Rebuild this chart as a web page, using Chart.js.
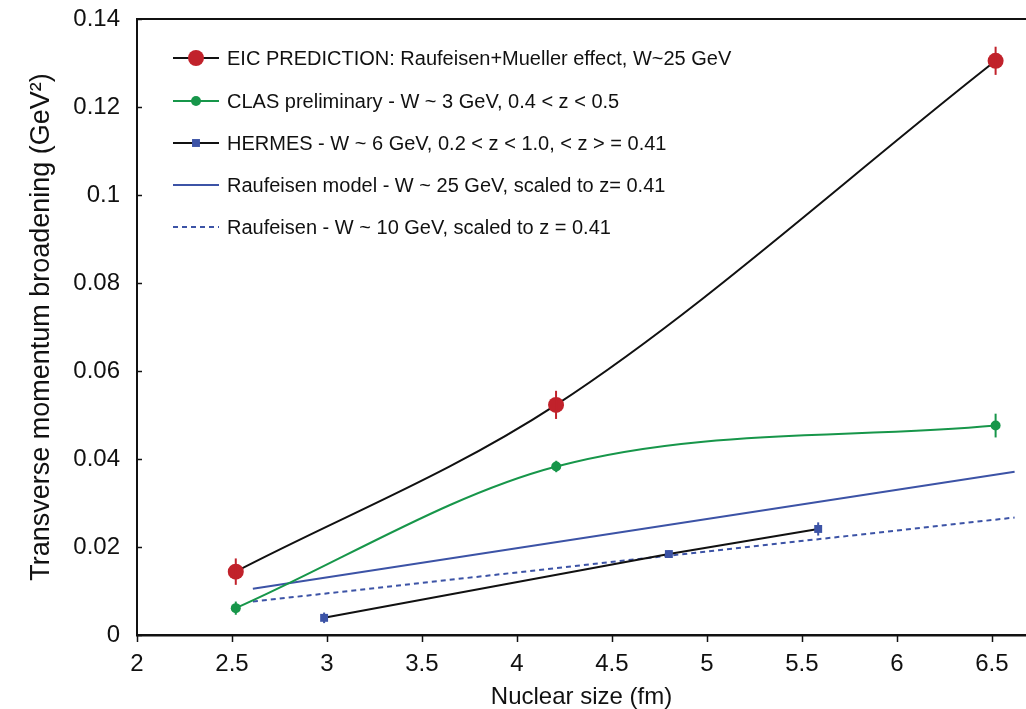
<!DOCTYPE html>
<html>
<head>
<meta charset="utf-8">
<script src="https://cdn.jsdelivr.net/npm/chart.js@4/dist/chart.umd.min.js"></script>
<style>
  html, body { margin: 0; background: #fff; }
  #grafico { display: block; }
</style>
</head>
<body>
<canvas id="grafico" width="1026" height="709"></canvas>
<script>
// Broadening vs nuclear size: EIC prediction, CLAS, HERMES and Raufeisen model curves

const xTicks = [2, 2.5, 3, 3.5, 4, 4.5, 5, 5.5, 6, 6.5];
const yTicks = [0, 0.02, 0.04, 0.06, 0.08, 0.1, 0.12, 0.14];

const eicX = [2.52, 4.206, 6.52];
const eicY = [0.0144, 0.0523, 0.1305];
const eicErr = [0.003, 0.0032, 0.0032];

const clasX = [2.52, 4.207, 6.52];
const clasY = [0.0061, 0.0383, 0.0476];
const clasErr = [0.0015, 0.0013, 0.0027];

const hermesX = [2.985, 4.8, 5.586];
const hermesY = [0.0039, 0.0184, 0.0241];
const hermesErr = [0.0012, 0.0008, 0.0015];

const modelX = [2.61, 6.62];
const model25Y = [0.0105, 0.0371];
const model10Y = [0.0076, 0.0267];

const labels = [
    'EIC PREDICTION: Raufeisen+Mueller effect, W~25 GeV',
    'CLAS preliminary - W ~ 3 GeV, 0.4 < z < 0.5',
    'HERMES - W ~ 6 GeV, 0.2 < z < 1.0, < z > = 0.41',
    'Raufeisen model - W ~ 25 GeV, scaled to z= 0.41',
    'Raufeisen - W ~ 10 GeV, scaled to z = 0.41'
];

const FAMILIA = "'Liberation Sans', Arial, Helvetica, sans-serif";
const VERMELHO = '#c1222b';
const VERDE = '#17964a';
const AZUL = '#3c53a6';

const pontos = (xs, ys) => xs.map((x, i) => ({ x, y: ys[i] }));

// error bars, drawn from each dataset's errorBars array
const pluginErros = {
    id: 'erros',
    afterDatasetsDraw(chart) {
        const { ctx, scales: { x, y } } = chart;
        chart.data.datasets.forEach((ds) => {
            if (!ds.errorBars) return;
            ctx.save();
            ctx.strokeStyle = ds.pointBackgroundColor;
            ctx.lineWidth = 2;
            ds.data.forEach((p, j) => {
                const px = x.getPixelForValue(p.x);
                ctx.beginPath();
                ctx.moveTo(px, y.getPixelForValue(p.y - ds.errorBars[j]));
                ctx.lineTo(px, y.getPixelForValue(p.y + ds.errorBars[j]));
                ctx.stroke();
            });
            ctx.restore();
        });
    }
};

// frame, tick marks and the legend inside the plot
const pluginMoldura = {
    id: 'moldura',
    afterDraw(chart) {
        const { ctx, chartArea: a, scales: { x, y } } = chart;
        ctx.save();
        ctx.strokeStyle = '#111';
        ctx.lineWidth = 2;
        ctx.beginPath();
        ctx.moveTo(a.left, a.top);
        ctx.lineTo(a.right, a.top);
        ctx.stroke();
        ctx.lineWidth = 1.5;
        yTicks.forEach(v => {
            const py = Math.round(y.getPixelForValue(v)) + 0.5;
            ctx.beginPath();
            ctx.moveTo(a.left, py);
            ctx.lineTo(a.left + 5, py);
            ctx.stroke();
        });
        xTicks.forEach(v => {
            const px = Math.round(x.getPixelForValue(v)) + 0.5;
            ctx.beginPath();
            ctx.moveTo(px, a.bottom);
            ctx.lineTo(px, a.bottom + 7);
            ctx.stroke();
        });

        const linhas = [58, 101, 143, 185, 227];
        ctx.font = `20px ${FAMILIA}`;
        ctx.textBaseline = 'middle';
        chart.data.datasets.forEach((ds, i) => {
            const ly = linhas[i];
            ctx.save();
            ctx.strokeStyle = ds.borderColor;
            ctx.lineWidth = ds.borderWidth;
            ctx.setLineDash(ds.borderDash || []);
            ctx.beginPath();
            ctx.moveTo(173, ly);
            ctx.lineTo(219, ly);
            ctx.stroke();
            ctx.restore();
            if (ds.pointRadius > 0) {
                ctx.fillStyle = ds.pointBackgroundColor;
                Chart.helpers.drawPoint(ctx, { pointStyle: ds.pointStyle, radius: ds.pointRadius, rotation: 0, borderWidth: 0 }, 196, ly);
            }
            ctx.fillStyle = '#111';
            ctx.fillText(ds.label, 227, ly + 1);
        });
        ctx.restore();
    }
};

new Chart(document.getElementById('grafico'), {
    type: 'line',
    data: {
        datasets: [
            {
                label: labels[0], data: pontos(eicX, eicY), errorBars: eicErr,
                borderColor: '#111', borderWidth: 2, cubicInterpolationMode: 'monotone',
                pointStyle: 'circle', pointRadius: 8, pointBackgroundColor: VERMELHO, pointBorderWidth: 0
            },
            {
                label: labels[1], data: pontos(clasX, clasY), errorBars: clasErr,
                borderColor: VERDE, borderWidth: 2, cubicInterpolationMode: 'monotone',
                pointStyle: 'circle', pointRadius: 5, pointBackgroundColor: VERDE, pointBorderWidth: 0
            },
            {
                label: labels[2], data: pontos(hermesX, hermesY), errorBars: hermesErr,
                borderColor: '#111', borderWidth: 2, tension: 0,
                pointStyle: 'rect', pointRadius: 5.6, pointBackgroundColor: AZUL, pointBorderWidth: 0
            },
            {
                label: labels[3], data: pontos(modelX, model25Y),
                borderColor: AZUL, borderWidth: 2, tension: 0, pointRadius: 0
            },
            {
                label: labels[4], data: pontos(modelX, model10Y),
                borderColor: AZUL, borderWidth: 2, borderDash: [5, 4], tension: 0, pointRadius: 0
            }
        ]
    },
    options: {
        responsive: false,
        animation: false,
        devicePixelRatio: 1,
        layout: { autoPadding: false, padding: { top: 19, right: 0, left: 0, bottom: 0 } },
        plugins: { legend: { display: false }, tooltip: { enabled: false } },
        scales: {
            x: {
                type: 'linear', min: 2, max: 6.68,
                afterBuildTicks: s => { s.ticks = xTicks.map(v => ({ value: v })); },
                afterFit: s => { s.height = 74; s.paddingLeft = 0; s.paddingRight = 0; },
                grid: { display: false, drawTicks: false },
                border: { display: true, color: '#111', width: 2.5 },
                ticks: { color: '#111', padding: 15, font: { family: FAMILIA, size: 24 }, callback: v => String(v) },
                title: { display: true, text: 'Nuclear size (fm)', color: '#111', padding: 0, font: { family: FAMILIA, size: 24, lineHeight: 1 } }
            },
            y: {
                min: 0, max: 0.14,
                afterBuildTicks: s => { s.ticks = yTicks.map(v => ({ value: v })); },
                afterFit: s => { s.width = 137; s.paddingTop = 0; s.paddingBottom = 0; },
                grid: { display: false, drawTicks: false },
                border: { display: true, color: '#111', width: 2 },
                ticks: { color: '#111', padding: 17, font: { family: FAMILIA, size: 24 }, callback: v => String(Number(v.toFixed(2))) },
                title: { display: true, text: 'Transverse momentum broadening (GeV²)', color: '#111', padding: { top: 25, bottom: 0 }, font: { family: FAMILIA, size: 27 } }
            }
        }
    },
    plugins: [pluginErros, pluginMoldura]
});
</script>
</body>
</html>
